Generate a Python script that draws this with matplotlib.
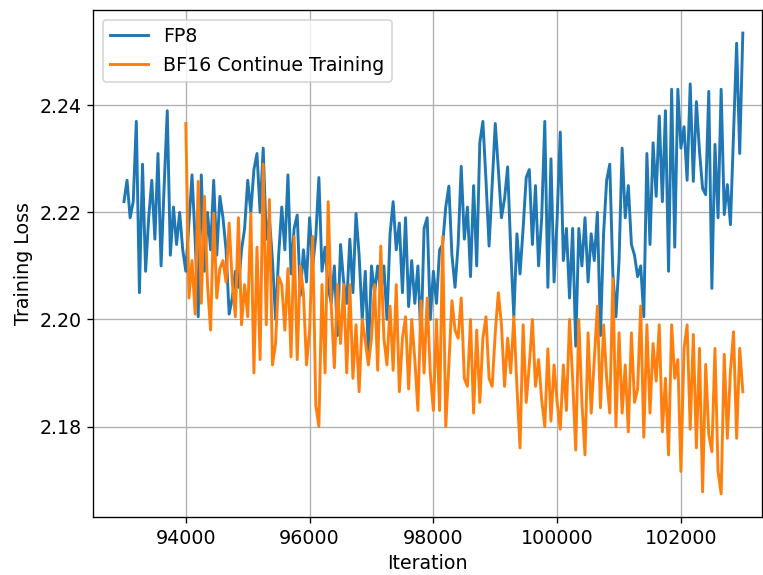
import numpy as np
import matplotlib
matplotlib.use("Agg")
import matplotlib.pyplot as plt

plt.rcParams["font.size"] = 11.4
plt.rcParams["lines.linewidth"] = 1.75

# iterations (every 50 steps)
fp8_iter = np.arange(93000, 103001, 50)
bf16_iter = np.arange(94000, 103001, 50)

# training loss
fp8_loss = [
    2.222, 2.226, 2.219, 2.222, 2.237, 2.205, 2.229, 2.209, 2.219, 2.226,
    2.215, 2.231, 2.210, 2.225, 2.239, 2.212, 2.221, 2.214, 2.220, 2.213,
    2.209, 2.218, 2.227, 2.215, 2.2005, 2.227, 2.209, 2.220, 2.213, 2.226,
    2.212, 2.223, 2.219, 2.213, 2.201, 2.204, 2.209, 2.206, 2.213, 2.217,
    2.226, 2.220, 2.228, 2.231, 2.220, 2.232, 2.215, 2.219, 2.211, 2.200,
    2.212, 2.221, 2.213, 2.227, 2.2085, 2.217, 2.2195, 2.2045, 2.213, 2.207,
    2.219, 2.210, 2.2155, 2.2265, 2.209, 2.2135, 2.206, 2.203, 2.210, 2.197,
    2.214, 2.207, 2.203, 2.215, 2.205, 2.2198, 2.212, 2.200, 2.209, 2.1936,
    2.210, 2.205, 2.210, 2.205, 2.210, 2.200, 2.216, 2.222, 2.213, 2.218,
    2.205, 2.219, 2.2024, 2.211, 2.203, 2.210, 2.196, 2.217, 2.219, 2.200,
    2.209, 2.203, 2.213, 2.214, 2.221, 2.2249, 2.212, 2.206, 2.214, 2.2286,
    2.215, 2.221, 2.208, 2.225, 2.210, 2.233, 2.237, 2.226, 2.2137, 2.225,
    2.2366, 2.228, 2.219, 2.2225, 2.2285, 2.213, 2.2005, 2.216, 2.2085, 2.217,
    2.2265, 2.228, 2.214, 2.225, 2.210, 2.219, 2.237, 2.206, 2.230, 2.207,
    2.219, 2.235, 2.211, 2.217, 2.204, 2.217, 2.195, 2.217, 2.210, 2.219,
    2.207, 2.216, 2.211, 2.220, 2.197, 2.216, 2.226, 2.229, 2.2085, 2.2005,
    2.211, 2.232, 2.219, 2.225, 2.214, 2.212, 2.208, 2.210, 2.2005, 2.231,
    2.214, 2.233, 2.223, 2.238, 2.222, 2.239, 2.209, 2.243, 2.2135, 2.243,
    2.232, 2.236, 2.226, 2.244, 2.2258, 2.2407, 2.2314, 2.2245, 2.2233, 2.2426,
    2.2058, 2.2327, 2.219, 2.243, 2.2196, 2.2252, 2.2177, 2.2346, 2.2516, 2.231,
    2.2535,
]

bf16_loss = [
    2.2366, 2.204, 2.211, 2.201, 2.2258, 2.203, 2.223, 2.2065, 2.198, 2.2198,
    2.204, 2.2095, 2.211, 2.207, 2.218, 2.207, 2.2005, 2.219, 2.199, 2.2065,
    2.2005, 2.2198, 2.190, 2.2135, 2.1925, 2.229, 2.199, 2.2224, 2.1915, 2.1955,
    2.208, 2.2065, 2.198, 2.2095, 2.193, 2.2155, 2.1925, 2.210, 2.205, 2.1915,
    2.198, 2.2155, 2.184, 2.180, 2.2065, 2.190, 2.222, 2.2025, 2.191, 2.2065,
    2.1955, 2.2065, 2.190, 2.2065, 2.189, 2.199, 2.1865, 2.200, 2.196, 2.1915,
    2.1965, 2.2065, 2.1905, 2.2137, 2.1965, 2.1915, 2.2025, 2.1905, 2.2065, 2.1865,
    2.1965, 2.2005, 2.187, 2.200, 2.1925, 2.183, 2.2035, 2.190, 2.204, 2.190,
    2.183, 2.200, 2.183, 2.2155, 2.180, 2.1915, 2.2035, 2.198, 2.1965, 2.204,
    2.189, 2.1875, 2.200, 2.1825, 2.198, 2.1845, 2.1965, 2.2005, 2.189, 2.1875,
    2.1975, 2.205, 2.199, 2.1875, 2.1965, 2.190, 2.2005, 2.1875, 2.176, 2.199,
    2.1845, 2.1915, 2.200, 2.1875, 2.1925, 2.185, 2.180, 2.1945, 2.181, 2.1915,
    2.1845, 2.1795, 2.1915, 2.183, 2.200, 2.189, 2.1756, 2.200, 2.1845, 2.1747,
    2.1975, 2.1825, 2.1925, 2.2025, 2.1835, 2.199, 2.189, 2.1825, 2.2076, 2.180,
    2.1975, 2.1825, 2.1915, 2.179, 2.1975, 2.1845, 2.187, 2.2025, 2.178, 2.199,
    2.1825, 2.1955, 2.1885, 2.199, 2.179, 2.189, 2.1747, 2.199, 2.189, 2.1925,
    2.1716, 2.1945, 2.199, 2.1795, 2.1972, 2.176, 2.1946, 2.1678, 2.1916, 2.1785,
    2.1753, 2.1946, 2.1716, 2.1674, 2.1935, 2.1778, 2.1903, 2.1977, 2.1778, 2.1946,
    2.1865,
]

fig = plt.figure(figsize=(763 / 120, 575 / 120), dpi=120)
ax = fig.add_axes([93 / 763, 58 / 575, 669 / 763, 507 / 575])

ax.plot(fp8_iter, fp8_loss, label="FP8")
ax.plot(bf16_iter, bf16_loss, label="BF16 Continue Training")

ax.set_xlim(92500, 103310)
ax.set_xlabel("Iteration")
ax.set_ylabel("Training Loss")
ax.legend(loc="upper left")
ax.grid()

fig.savefig("out.png", dpi=120)
